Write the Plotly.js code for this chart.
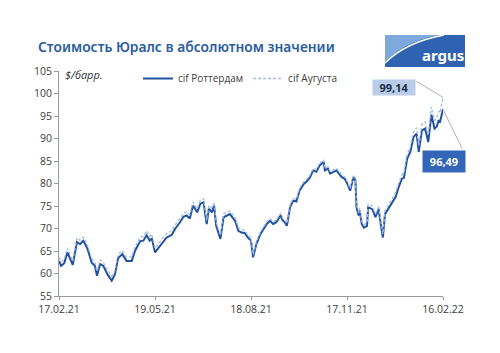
<!DOCTYPE html>
<html>
<head>
<meta charset="utf-8">
<script src="https://cdn.plot.ly/plotly-3.0.1.min.js"></script>
<style>html,body{margin:0;padding:0;background:#fff;}#chart{width:500px;height:353px;}</style>
</head>
<body>
<div id="chart"></div>
<script>
const dates = [
"2021-02-17","2021-02-19","2021-02-22","2021-02-25","2021-02-27","2021-03-02","2021-03-06","2021-03-09","2021-03-12","2021-03-14",
"2021-03-16","2021-03-20","2021-03-23","2021-03-25","2021-03-28","2021-03-31","2021-04-02","2021-04-04","2021-04-08","2021-04-11",
"2021-04-14","2021-04-18","2021-04-22","2021-04-27","2021-04-30","2021-05-05","2021-05-08","2021-05-11","2021-05-14","2021-05-16",
"2021-05-19","2021-05-26","2021-05-30","2021-06-04","2021-06-07","2021-06-12","2021-06-15","2021-06-18","2021-06-21","2021-06-24",
"2021-06-28","2021-07-01","2021-07-04","2021-07-07","2021-07-09","2021-07-12","2021-07-14","2021-07-16","2021-07-20","2021-07-23",
"2021-07-26","2021-07-29","2021-08-03","2021-08-06","2021-08-09","2021-08-12","2021-08-15","2021-08-18","2021-08-20","2021-08-23",
"2021-08-27","2021-08-30","2021-09-02","2021-09-05","2021-09-08","2021-09-11","2021-09-15","2021-09-17","2021-09-19","2021-09-21",
"2021-09-24","2021-09-27","2021-09-30","2021-10-03","2021-10-07","2021-10-10","2021-10-13","2021-10-16","2021-10-19","2021-10-22",
"2021-10-26","2021-10-27","2021-10-30","2021-11-01","2021-11-04","2021-11-07","2021-11-12","2021-11-15","2021-11-18","2021-11-20",
"2021-11-23","2021-11-25","2021-11-26","2021-11-28","2021-11-29","2021-12-01","2021-12-03","2021-12-06","2021-12-07","2021-12-11",
"2021-12-14","2021-12-17","2021-12-19","2021-12-21","2021-12-23","2021-12-26","2021-12-29","2022-01-02","2022-01-05","2022-01-08",
"2022-01-10","2022-01-13","2022-01-16","2022-01-19","2022-01-22","2022-01-24","2022-01-27","2022-01-30","2022-02-02","2022-02-04",
"2022-02-05","2022-02-08","2022-02-10","2022-02-12","2022-02-13","2022-02-15","2022-02-16"
];
const rotterdam = [
62.8,61.7,62.3,64.7,63.6,61.9,67.0,66.5,67.3,66.5,
65.5,62.4,61.7,59.5,62.1,61.7,60.6,59.8,58.4,59.8,
63.4,64.3,62.8,62.8,65.0,67.2,67.3,68.5,67.3,67.8,
64.7,66.9,68.0,68.6,69.9,71.5,72.6,72.9,72.2,75.1,
73.6,75.5,75.8,71.0,74.4,73.6,75.1,70.6,67.7,72.5,
72.9,73.2,71.7,69.5,69.1,69.0,68.0,67.3,63.6,66.5,
68.8,69.9,71.0,71.7,71.0,71.4,72.9,71.8,71.4,70.6,
74.7,76.2,76.0,78.4,79.9,80.5,81.4,82.9,82.6,84.0,
84.8,82.9,83.3,82.2,82.6,82.9,81.4,81.0,79.6,78.4,
81.4,80.7,74.7,72.9,74.0,71.0,70.2,70.6,74.7,74.3,
72.5,74.3,71.0,68.0,73.2,74.3,75.5,77.0,79.2,81.0,
81.3,85.5,87.0,90.3,91.1,87.0,91.8,92.2,89.2,93.0,
95.3,92.2,92.6,94.1,93.5,95.5,96.49
];
const augusta = [
63.6,62.6,63.2,65.7,64.5,62.8,67.9,67.4,68.1,67.4,
66.3,63.3,62.6,60.5,63.0,62.5,61.5,60.7,59.4,60.6,
64.3,65.1,63.6,63.7,65.9,68.1,68.2,69.5,68.2,68.7,
65.6,67.8,68.9,69.5,70.8,72.3,73.4,73.7,73.0,75.9,
74.4,76.3,76.6,71.8,75.2,74.4,75.8,71.4,68.5,73.3,
73.6,73.9,72.4,70.2,69.8,69.6,68.6,67.9,64.2,67.0,
69.3,70.4,71.5,72.2,71.5,71.9,73.4,72.3,71.9,71.1,
75.2,76.7,76.5,78.9,80.4,81.0,81.9,83.4,83.1,84.5,
85.3,83.4,83.8,82.7,83.1,83.4,81.9,81.5,80.1,78.9,
81.9,81.2,75.3,73.5,74.6,71.6,70.8,71.3,75.4,75.0,
73.2,75.0,71.8,68.8,74.0,75.1,76.3,77.9,80.1,82.0,
82.3,86.6,88.1,91.5,92.4,88.4,93.2,93.7,90.8,94.7,
97.0,94.0,94.5,96.1,95.7,97.9,99.14
];
const seriesNames = ["cif Роттердам", "cif Аугуста"];
const tickDates = ["2021-02-17","2021-05-19","2021-08-18","2021-11-17","2022-02-16"];
const tickLabels = ["17.02.21","19.05.21","18.08.21","17.11.21","16.02.22"];
const yTicks = [55,60,65,70,75,80,85,90,95,100,105];
const titleText = "Стоимость Юралс в абсолютном значении";
const unitText = "$/барр.";
const logoText = "argus";

// plot-area geometry (pixels)
const L = 59, R = 443, T = 71, B = 296;
const px = x => (x - L) / (R - L);
const py = y => (B - y) / (B - T);
const fmt = v => v.toFixed(2).replace('.', ',');

const lastDate = dates[dates.length - 1];
const lastR = rotterdam[rotterdam.length - 1];
const lastA = augusta[augusta.length - 1];

const traces = [
  {x: dates, y: rotterdam, name: seriesNames[0], type: 'scatter', mode: 'lines',
   line: {color: '#22529f', width: 2}},
  {x: dates, y: augusta, name: seriesNames[1], type: 'scatter', mode: 'lines',
   line: {color: '#a3bde3', width: 1.3, dash: '3px,2px'}}
];

const layout = {
  width: 500, height: 353,
  margin: {l: L, r: 500 - R, t: T, b: 353 - B},
  paper_bgcolor: '#fff', plot_bgcolor: '#fff',
  font: {family: 'Open Sans, sans-serif', color: '#404040', size: 11},
  title: {text: titleText, xref: 'container', yref: 'container', x: 38/500, xanchor: 'left',
          y: 1 - 47/353, yanchor: 'middle',
          font: {family: 'Noto Sans', size: 13.8, color: '#2a5d9f', weight: 600}},
  showlegend: true,
  legend: {orientation: 'h', x: px(138), y: py(64), xanchor: 'left', yanchor: 'top',
           font: {size: 10, color: '#404040'}, bgcolor: 'rgba(0,0,0,0)', itemwidth: 30, tracegroupgap: 0},
  xaxis: {type: 'date', range: [dates[0], lastDate], tickvals: tickDates, ticktext: tickLabels,
          showgrid: false, zeroline: false, showline: true, linecolor: '#9a9a9a', linewidth: 1,
          ticks: 'outside', ticklen: 3, tickcolor: '#9a9a9a', tickfont: {size: 10.5, color: '#404040'}},
  yaxis: {range: [55, 105], tickvals: yTicks, showgrid: false, zeroline: false, showline: true,
          linecolor: '#9a9a9a', linewidth: 1, ticks: 'outside', ticklen: 4, tickcolor: '#9a9a9a',
          tickfont: {size: 10.5, color: '#404040'}},
  shapes: [
    {type: 'rect', xref: 'paper', yref: 'paper', x0: px(385), x1: px(465), y0: py(67), y1: py(35),
     fillcolor: '#2f62b0', line: {width: 0}, layer: 'above'},
    {type: 'path', xref: 'paper', yref: 'paper',
     path: `M ${px(385)} ${py(35)} L ${px(385)} ${py(62)} Q ${px(405)} ${py(41)} ${px(440)} ${py(35)} Z`,
     fillcolor: '#7fa8dc', line: {width: 0}, layer: 'above'},
    {type: 'path', xref: 'paper', yref: 'paper',
     path: `M ${px(385)} ${py(63)} Q ${px(406)} ${py(42)} ${px(444)} ${py(35)}`,
     line: {color: '#ffffff', width: 1.5}, layer: 'above'}
  ],
  annotations: [
    {text: unitText, xref: 'paper', yref: 'paper', x: px(63), y: py(74), xanchor: 'left', yanchor: 'middle',
     showarrow: false, font: {size: 11, color: '#333', style: 'italic'}},
    {text: logoText, xref: 'paper', yref: 'paper', x: px(443), y: py(55), xanchor: 'center', yanchor: 'middle',
     showarrow: false, font: {family: 'Noto Sans', size: 15, color: '#ffffff', weight: 700}},
    // leader lines
    {x: lastDate, y: lastA, xref: 'x', yref: 'y', text: '', showarrow: true, arrowhead: 0,
     arrowwidth: 0.8, arrowcolor: '#9a9a9a', ax: -28, ay: -17, standoff: 0, startstandoff: 0},
    {x: lastDate, y: lastR, xref: 'x', yref: 'y', text: '', showarrow: true, arrowhead: 0,
     arrowwidth: 0.8, arrowcolor: '#9a9a9a', ax: 20, ay: 41, standoff: 0, startstandoff: 0},
    // value boxes
    {text: '<b>' + fmt(lastA) + '</b>', xref: 'paper', yref: 'paper', x: px(394), y: py(87.5),
     xanchor: 'center', yanchor: 'middle', showarrow: false, width: 42, height: 15,
     bgcolor: '#b9cde9', borderpad: 0, font: {size: 11, color: '#1d2b45'}},
    {text: '<b>' + fmt(lastR) + '</b>', xref: 'paper', yref: 'paper', x: px(444), y: py(161),
     xanchor: 'center', yanchor: 'middle', showarrow: false, width: 42, height: 21,
     bgcolor: '#3366b8', borderpad: 0, font: {size: 11, color: '#ffffff'}}
  ]
};

Plotly.newPlot('chart', traces, layout, {displayModeBar: false, staticPlot: true});
</script>
</body>
</html>
